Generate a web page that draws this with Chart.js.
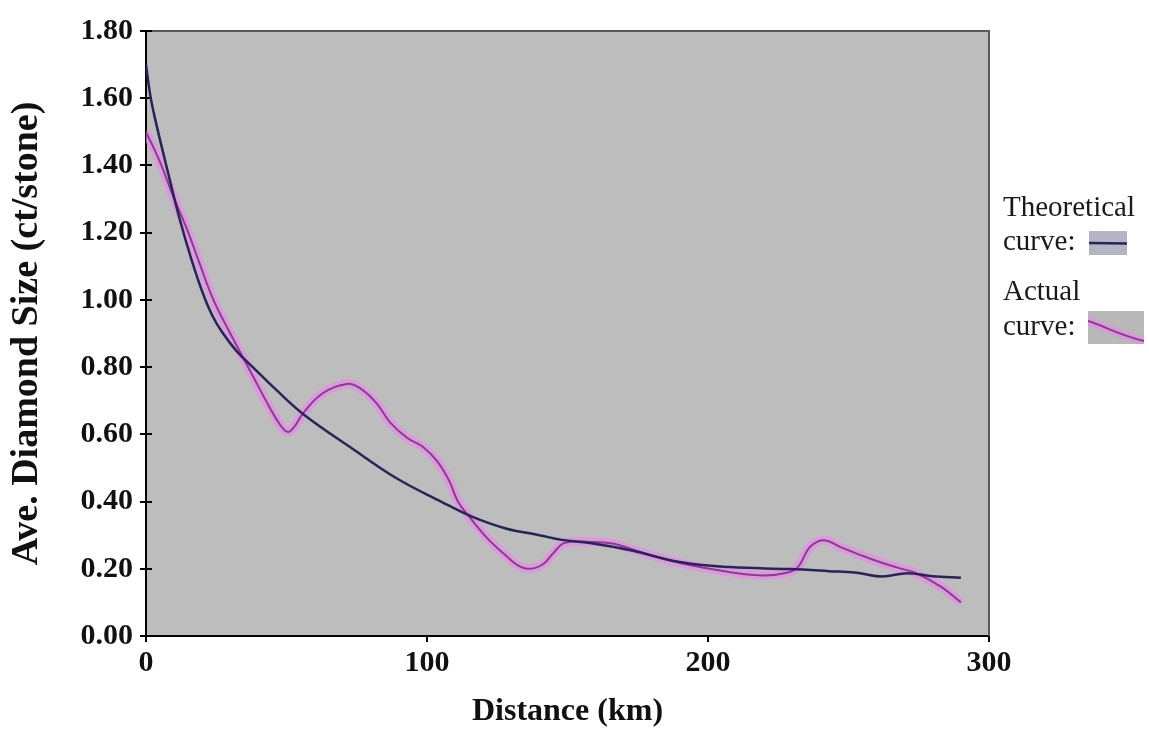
<!DOCTYPE html>
<html><head><meta charset="utf-8">
<script src="https://cdn.jsdelivr.net/npm/chart.js@4"></script>
<style>
html,body{margin:0;padding:0;background:#fff;}
#wrap{position:relative;width:1149px;height:731px;overflow:hidden}
canvas{display:block}
.lg{position:absolute;font-family:'Liberation Serif','Times New Roman',serif;font-size:29px;line-height:29px;color:#1a1a1a;white-space:nowrap}
.sw{position:absolute}
</style></head>
<body><div id="wrap"><canvas id="c" width="1149" height="731"></canvas></div>
<script>
// ---- data ----
const xTickValues = [0, 100, 200, 300];
const yTickValues = [0, 0.2, 0.4, 0.6, 0.8, 1.0, 1.2, 1.4, 1.6, 1.8];
const xTitle = 'Distance (km)';
const yTitle = 'Ave. Diamond Size (ct/stone)';
const seriesNames = ['Theoretical', 'Actual'];

const theoDist = [0, 1.5, 3.2, 7.5, 12, 16, 20, 23.5, 27, 32, 38, 46, 56, 73, 89, 105, 116, 128, 140, 148, 158, 172, 190, 208, 229, 243, 253, 262, 271, 280, 290];
const theoSize = [1.70, 1.61, 1.54, 1.39, 1.24, 1.125, 1.025, 0.955, 0.905, 0.85, 0.80, 0.735, 0.66, 0.56, 0.47, 0.40, 0.355, 0.32, 0.30, 0.286, 0.277, 0.256, 0.22, 0.205, 0.199, 0.193, 0.188, 0.177, 0.187, 0.178, 0.173];

const actDist = [0, 5, 9.6, 14.6, 19, 24, 30, 37, 44, 48, 50.5, 53, 56, 63, 71.5, 76, 82, 87, 93, 98.6, 103.6, 108, 111, 116, 122, 128, 132, 136, 141, 145, 149, 158, 166, 176, 190, 208, 220, 228, 232, 236, 240, 243, 247, 259, 268, 274, 283, 290];
const actSize = [1.50, 1.41, 1.31, 1.21, 1.11, 1.00, 0.90, 0.79, 0.68, 0.625, 0.607, 0.625, 0.664, 0.723, 0.75, 0.738, 0.693, 0.634, 0.589, 0.5625, 0.52, 0.46, 0.40, 0.345, 0.286, 0.24, 0.212, 0.20, 0.212, 0.247, 0.277, 0.28, 0.275, 0.25, 0.217, 0.19, 0.18, 0.188, 0.205, 0.262, 0.284, 0.282, 0.265, 0.226, 0.202, 0.187, 0.146, 0.10];

// ---- styles ----
const plotBg = '#bdbdbd';
const theoColor = '#25255a';
const actCore = '#8c3a92';
const actGlow = 'rgba(235,135,235,0.65)';
const serif = "'Liberation Serif','Times New Roman',serif";
const tickFont = {family: serif, size: 30, weight: 'bold'};

const toPts = (xs, ys) => xs.map((x, i) => ({x: x, y: ys[i]}));

const bgPlugin = {
  id: 'plotbg',
  beforeDraw(chart) {
    const {ctx, chartArea: a} = chart;
    ctx.save();
    ctx.fillStyle = plotBg;
    ctx.fillRect(a.left, a.top, a.right - a.left, a.bottom - a.top);
    ctx.restore();
  },
  beforeDatasetsDraw(chart) {
    const {ctx, chartArea: a, scales} = chart;
    ctx.save();
    ctx.strokeStyle = '#5a5a5a';
    ctx.lineWidth = 2;
    ctx.beginPath();
    ctx.moveTo(a.left, a.top); ctx.lineTo(a.right, a.top); ctx.lineTo(a.right, a.bottom);
    ctx.stroke();
    ctx.strokeStyle = '#000';
    ctx.beginPath();
    scales.y.ticks.forEach(t => {
      const y = Math.round(scales.y.getPixelForValue(t.value));
      ctx.moveTo(a.left, y); ctx.lineTo(a.left + 6, y);
    });
    ctx.stroke();
    ctx.restore();
  }
};

new Chart(document.getElementById('c'), {
  type: 'line',
  data: {
    datasets: [
      {label: seriesNames[0], data: toPts(theoDist, theoSize), borderColor: theoColor, borderWidth: 2.5, pointRadius: 0, tension: 0.4, order: 0},
      {label: seriesNames[1] + ' (glow)', data: toPts(actDist, actSize), borderColor: actGlow, borderWidth: 9, pointRadius: 0, tension: 0.4, order: 2},
      {label: seriesNames[1], data: toPts(actDist, actSize), borderColor: actCore, borderWidth: 2, pointRadius: 0, tension: 0.4, order: 1}
    ]
  },
  options: {
    responsive: false,
    animation: false,
    devicePixelRatio: 1,
    layout: {padding: {top: 31, right: 160, left: 0, bottom: 0}},
    plugins: {legend: {display: false}, tooltip: {enabled: false}},
    scales: {
      x: {
        type: 'linear', min: 0, max: 300,
        afterBuildTicks(s) { s.ticks = xTickValues.map(v => ({value: v})); },
        ticks: {font: tickFont, color: '#111', padding: 3, maxRotation: 0, callback: v => String(v)},
        grid: {drawOnChartArea: false, drawTicks: true, tickLength: 6, color: '#000', lineWidth: 2},
        border: {display: true, color: '#000', width: 2},
        title: {display: true, text: xTitle, color: '#111', font: {family: serif, size: 32, weight: 'bold'}, padding: {top: 0, bottom: 0}},
        afterFit(s) { s.height = 95; }
      },
      y: {
        type: 'linear', min: 0, max: 1.8,
        afterBuildTicks(s) { s.ticks = yTickValues.map(v => ({value: v})); },
        ticks: {font: tickFont, color: '#111', padding: 7, callback: v => Number(v).toFixed(2)},
        grid: {drawOnChartArea: false, drawTicks: true, tickLength: 6, color: '#000', lineWidth: 2},
        border: {display: true, color: '#000', width: 2},
        title: {display: true, text: yTitle, color: '#111', font: {family: serif, size: 38, weight: 'bold'}, padding: {top: 4, bottom: 0}},
        afterFit(s) { s.width = 146; }
      }
    }
  },
  plugins: [bgPlugin]
});

// ---- legend (right side) ----
const wrap = document.getElementById('wrap');
function addText(txt, left, top) {
  const d = document.createElement('div');
  d.className = 'lg'; d.textContent = txt;
  d.style.left = left + 'px'; d.style.top = top + 'px';
  wrap.appendChild(d);
}
addText(seriesNames[0], 1003, 192);
addText('curve:', 1003, 226);
addText(seriesNames[1], 1003, 276);
addText('curve:', 1003, 311);
const ns = 'http://www.w3.org/2000/svg';
function swatch(left, top, w, h, bg, build) {
  const s = document.createElementNS(ns, 'svg');
  s.setAttribute('width', w); s.setAttribute('height', h);
  s.setAttribute('class', 'sw');
  s.style.left = left + 'px'; s.style.top = top + 'px';
  const r = document.createElementNS(ns, 'rect');
  r.setAttribute('width', w); r.setAttribute('height', h); r.setAttribute('fill', bg);
  s.appendChild(r); build(s); wrap.appendChild(s);
}
swatch(1089, 231, 38, 24, '#b4b4c4', s => {
  const l = document.createElementNS(ns, 'line');
  l.setAttribute('x1', 0); l.setAttribute('y1', 12); l.setAttribute('x2', 38); l.setAttribute('y2', 12.5);
  l.setAttribute('stroke', theoColor); l.setAttribute('stroke-width', 2.5);
  s.appendChild(l);
});
swatch(1088, 311, 56, 33, '#b8b8b8', s => {
  const d = 'M0 10 C14 14, 30 24, 56 30';
  [[actGlow, 8], [actCore, 2]].forEach(([c, w]) => {
    const p = document.createElementNS(ns, 'path');
    p.setAttribute('d', d); p.setAttribute('fill', 'none');
    p.setAttribute('stroke', c); p.setAttribute('stroke-width', w);
    s.appendChild(p);
  });
});
</script>
</body></html>
